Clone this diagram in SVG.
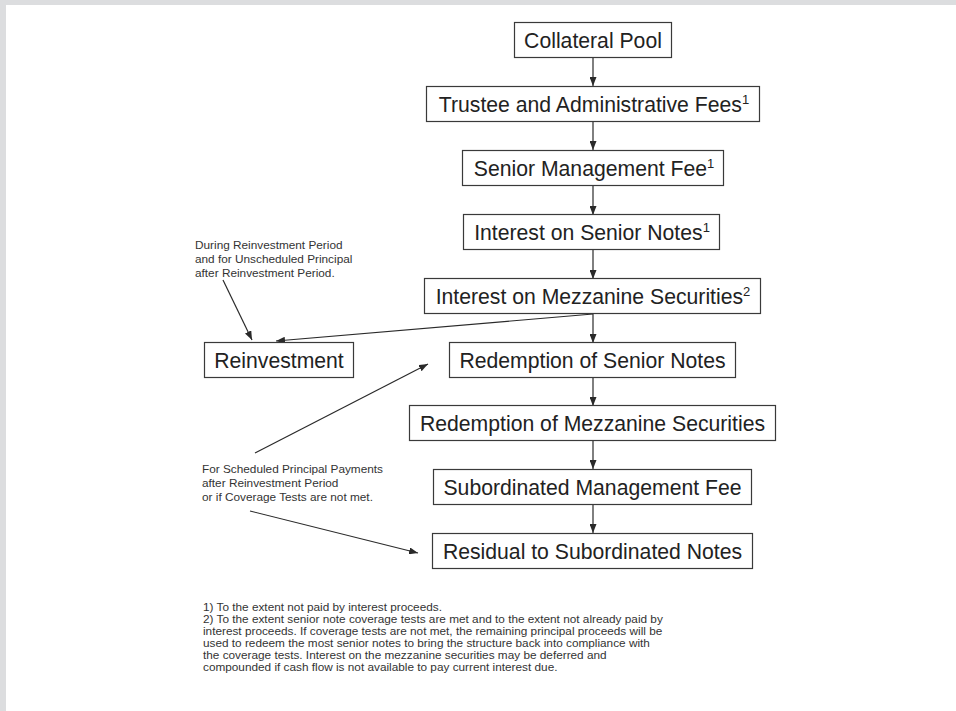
<svg xmlns="http://www.w3.org/2000/svg" width="956" height="711" viewBox="0 0 956 711">
  <style>
    .box rect { fill: #ffffff; stroke: #3a3a3a; stroke-width: 1.2; }
    .box text { font-family: "Liberation Sans", Arial, sans-serif; font-size: 21.2px; fill: #222222; text-anchor: middle; }
    .sup { font-size: 13px; }
    .note { font-family: "Liberation Sans", Arial, sans-serif; font-size: 11.8px; fill: #333333; }
    .foot { font-family: "Liberation Sans", Arial, sans-serif; font-size: 10.3px; fill: #333333; }
    .link { stroke: #2a2a2a; stroke-width: 1.2; fill: none; marker-end: url(#head); }
  </style>
  <defs>
    <marker id="head" markerUnits="userSpaceOnUse" markerWidth="9" markerHeight="7" viewBox="0 0 9 7" refX="9" refY="3.5" orient="auto">
      <path d="M0,0 L9,3.5 L0,7 Z" fill="#2a2a2a"/>
    </marker>
  </defs>

  <!-- page background with grey margin -->
  <rect x="0" y="0" width="956" height="711" fill="#dcdddf"/>
  <rect x="6" y="5" width="950" height="706" fill="#ffffff"/>

  <!-- connectors -->
  <g id="connectors">
    <line class="link" x1="593" y1="57" x2="593" y2="86"/>
    <line class="link" x1="593" y1="122" x2="593" y2="150"/>
    <line class="link" x1="593" y1="186" x2="593" y2="215"/>
    <line class="link" x1="593" y1="250" x2="593" y2="279"/>
    <line class="link" x1="593" y1="314" x2="593" y2="343"/>
    <line class="link" x1="593" y1="378" x2="593" y2="406"/>
    <line class="link" x1="593" y1="441" x2="593" y2="469"/>
    <line class="link" x1="593" y1="504" x2="593" y2="533"/>
    <line class="link" x1="593" y1="314" x2="276" y2="341"/>
    <line class="link" x1="223" y1="280" x2="252" y2="340"/>
    <line class="link" x1="255" y1="453" x2="428" y2="364"/>
    <line class="link" x1="250" y1="511" x2="418" y2="553"/>
  </g>

  <!-- nodes -->
  <g id="collateral-pool" class="box">
    <rect x="514.5" y="22.5" width="157" height="35"/>
    <text x="593" y="47.5">Collateral Pool</text>
  </g>
  <g id="trustee-fees" class="box">
    <rect x="426.5" y="86.5" width="333" height="35"/>
    <text x="594" y="111.5">Trustee and Administrative Fees<tspan class="sup" dy="-8">1</tspan></text>
  </g>
  <g id="senior-mgmt-fee" class="box">
    <rect x="462.5" y="150.5" width="261" height="35"/>
    <text x="594" y="175.5">Senior Management Fee<tspan class="sup" dy="-8">1</tspan></text>
  </g>
  <g id="interest-senior" class="box">
    <rect x="463.5" y="214.5" width="256" height="35"/>
    <text x="592" y="239.5">Interest on Senior Notes<tspan class="sup" dy="-8">1</tspan></text>
  </g>
  <g id="interest-mezz" class="box">
    <rect x="424.5" y="278.5" width="336" height="35"/>
    <text x="593" y="303.5">Interest on Mezzanine Securities<tspan class="sup" dy="-8">2</tspan></text>
  </g>
  <g id="reinvestment" class="box">
    <rect x="204.5" y="342.5" width="149" height="35"/>
    <text x="279" y="367.5">Reinvestment</text>
  </g>
  <g id="redemption-senior" class="box">
    <rect x="449.5" y="342.5" width="286" height="35"/>
    <text x="592.5" y="367.5">Redemption of Senior Notes</text>
  </g>
  <g id="redemption-mezz" class="box">
    <rect x="409.5" y="405.5" width="366" height="35"/>
    <text x="592.5" y="430.5">Redemption of Mezzanine Securities</text>
  </g>
  <g id="sub-mgmt-fee" class="box">
    <rect x="433.5" y="469.5" width="318" height="35"/>
    <text x="592.5" y="494.5">Subordinated Management Fee</text>
  </g>
  <g id="residual" class="box">
    <rect x="432.5" y="533.5" width="320" height="35"/>
    <text x="592.5" y="558.5">Residual to Subordinated Notes</text>
  </g>

  <!-- annotations -->
  <g id="note-reinvestment">
    <text class="note" x="195" y="249">During Reinvestment Period</text>
    <text class="note" x="195" y="263">and for Unscheduled Principal</text>
    <text class="note" x="195" y="277">after Reinvestment Period.</text>
  </g>
  <g id="note-scheduled">
    <text class="note" x="202" y="473">For Scheduled Principal Payments</text>
    <text class="note" x="202" y="487">after Reinvestment Period</text>
    <text class="note" x="202" y="501">or if Coverage Tests are not met.</text>
  </g>

  <!-- footnotes: wide-set small type, stretched horizontally from the left margin -->
  <g id="footnotes" transform="translate(203,0) scale(1.146,1) translate(-203,0)">
    <text class="foot" x="203" y="611">1) To the extent not paid by interest proceeds.</text>
    <text class="foot" x="203" y="623">2) To the extent senior note coverage tests are met and to the extent not already paid by</text>
    <text class="foot" x="203" y="635">interest proceeds. If coverage tests are not met, the remaining principal proceeds will be</text>
    <text class="foot" x="203" y="647">used to redeem the most senior notes to bring the structure back into compliance with</text>
    <text class="foot" x="203" y="659">the coverage tests.  Interest on the mezzanine securities may be deferred and</text>
    <text class="foot" x="203" y="671">compounded if cash flow is not available to pay current interest due.</text>
  </g>
</svg>
